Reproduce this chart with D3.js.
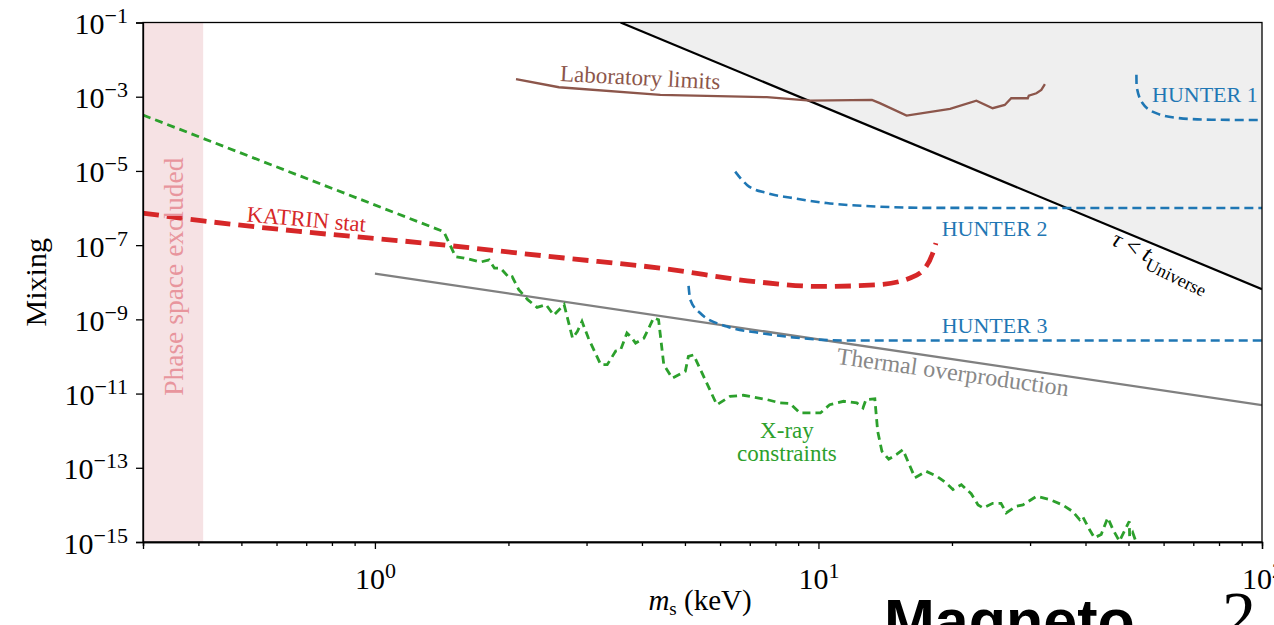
<!DOCTYPE html>
<html>
<head>
<meta charset="utf-8">
<script src="https://cdn.jsdelivr.net/npm/d3@7"></script>
<style>
  body { margin: 0; background: #fff; }
  svg { display: block; }
  text { font-family: "Liberation Serif", "DejaVu Serif", serif; }
</style>
</head>
<body>
<div id="plot"></div>
<script>
// sterile neutrino mass (keV) vs mixing

const xDomain = [0.3, 100];
const yDomain = [1e-15, 1e-1];
const xMajorTicks = [1, 10, 100];
const xMinorTicks = [0.3, 0.4, 0.5, 0.6, 0.7, 0.8, 0.9, 2, 3, 4, 5, 6, 7, 8, 9, 20, 30, 40, 50, 60, 70, 80, 90];
const yMajorTicks = [1e-1, 1e-3, 1e-5, 1e-7, 1e-9, 1e-11, 1e-13, 1e-15];

const phaseSpaceMass = [0.3, 0.41];

const tauMass = [3.58, 100];
const tauMix = [1e-1, 6.5e-9];

const labMass = [2.08, 2.60, 4.40, 7.65, 9.57, 13.2, 13.75, 15.8, 19.8, 22.7, 24.7, 26.3, 27.2, 29.65, 29.8, 31.0, 31.8, 32.4];
const labMix = [3.0e-3, 1.8e-3, 1.12e-3, 9.7e-4, 7.8e-4, 8.2e-4, 6.7e-4, 3.1e-4, 4.7e-4, 7.8e-4, 4.9e-4, 6.0e-4, 9.1e-4, 9.1e-4, 1.07e-3, 1.24e-3, 1.52e-3, 2.17e-3];

const katrinMass = [0.3, 0.41, 0.68, 1.34, 2.67, 4.4, 7.4, 10.1, 13.5, 16.1, 17.5, 18.1, 18.4];
const katrinMix = [7.3e-7, 4.5e-7, 2.33e-7, 1.09e-7, 4.5e-8, 2.4e-8, 1.0e-8, 7.7e-9, 8.5e-9, 1.3e-8, 2.66e-8, 6.1e-8, 1.13e-7];

const hunter1Mass = [52.1, 52.15, 53.8, 57.7, 65, 77, 100];
const hunter1Mix = [3.9e-3, 1.9e-3, 6.7e-4, 3.6e-4, 2.65e-4, 2.4e-4, 2.35e-4];

const hunter2Mass = [6.49, 6.90, 7.65, 8.78, 10.43, 13.52, 17.52, 100];
const hunter2Mix = [9.6e-6, 4.2e-6, 2.52e-6, 1.85e-6, 1.36e-6, 1.10e-6, 1.01e-6, 1.0e-6];

const hunter3Mass = [5.095, 5.14, 5.41, 6.22, 7.39, 8.78, 11.37, 100];
const hunter3Mix = [8.0e-9, 3.4e-9, 1.48e-9, 6.4e-10, 4.3e-10, 3.26e-10, 2.7e-10, 2.7e-10];

const thermalMass = [1, 100];
const thermalMix = [1.7e-8, 4.9e-12];

const xrayMass = [0.3, 1.43, 1.52, 1.59, 1.73, 1.81, 1.86, 1.92, 2.01, 2.04, 2.11, 2.21, 2.32, 2.43, 2.53, 2.67, 2.79, 2.86, 2.93, 3.03,
  3.23, 3.34, 3.49, 3.58, 3.70, 3.80, 3.87, 4.04, 4.18, 4.25, 4.36, 4.48, 4.68, 5.01, 5.09, 5.23, 5.90, 6.32, 6.77, 7.65,
  8.19, 8.63, 9.09, 10.1, 10.6, 11.4, 12.2, 12.6, 12.8, 13.4, 13.6, 13.9, 14.4, 15.0, 15.5, 16.5, 17.5, 18.5, 19.4, 20.1,
  21.0, 22.1, 22.9, 23.5, 24.7, 25.8, 26.5, 27.9, 28.9, 31.0, 33.2, 35.5, 37.4, 38.8, 39.4, 40.8, 41.9, 43.4, 44.9, 46.1,
  47.7, 50.2, 50.3, 51.1, 52.0];
const xrayMix = [3.2e-4, 2.3e-7, 4.9e-8, 4.5e-8, 3.5e-8, 4.0e-8, 2.4e-8, 2.4e-8, 1.3e-8, 1.4e-8, 6.3e-9, 3.4e-9, 2.1e-9, 2.5e-9, 1.3e-9, 2.5e-9, 3.1e-10, 4.7e-10, 8.8e-10, 3.1e-10,
  6.0e-11, 6.0e-11, 1.4e-10, 1.5e-10, 4.3e-10, 3.1e-10, 2.3e-10, 3.1e-10, 7.2e-10, 1.1e-9, 9.8e-10, 6.0e-11, 2.6e-11, 4.0e-11, 1.0e-10, 1.1e-10, 5.0e-12, 8.4e-12, 9.0e-12, 6.9e-12,
  5.6e-12, 5.4e-12, 3.0e-12, 3.0e-12, 5.0e-12, 6.2e-12, 5.6e-12, 4.1e-12, 6.9e-12, 7.2e-12, 9.6e-13, 2.8e-13, 1.7e-13, 2.3e-13, 3.1e-13, 5.4e-14, 8.0e-14, 5.9e-14, 3.9e-14, 2.6e-14,
  3.5e-14, 2.0e-14, 1.0e-14, 8.3e-15, 1.1e-14, 1.1e-14, 6.1e-15, 9.2e-15, 1.0e-14, 1.7e-14, 1.4e-14, 1.0e-14, 6.7e-15, 4.0e-15, 4.9e-15, 2.2e-15, 1.3e-15, 1.6e-15, 4.5e-15, 2.2e-15,
  1.05e-15, 3.6e-15, 1.4e-15, 1.8e-15, 1.0e-15];

////////////////////////////////////////////////////

const w = 1274;
const h = 625;
const margin = {top: 22.5, right: 12, bottom: 83, left: 143};

const svg = d3.select("div#plot")
    .append("svg")
    .attr("width", w)
    .attr("height", h);

const x = d3.scaleLog()
    .domain(xDomain)
    .range([margin.left, w - margin.right]);

const y = d3.scaleLog()
    .domain(yDomain)
    .range([h - margin.bottom, margin.top]);

svg.append("clipPath")
    .attr("id", "clip")
  .append("rect")
    .attr("x", margin.left)
    .attr("y", margin.top)
    .attr("width", x.range()[1] - margin.left)
    .attr("height", y.range()[0] - margin.top);

const plot = svg.append("g").attr("clip-path", "url(#clip)");

// phase space band
plot.append("rect")
    .attr("x", x(phaseSpaceMass[0]))
    .attr("y", margin.top)
    .attr("width", x(phaseSpaceMass[1]) - x(phaseSpaceMass[0]))
    .attr("height", y.range()[0] - margin.top)
    .attr("fill", "#f6e2e4");

const line = d3.line().x(d => x(d[0])).y(d => y(d[1]));
const smooth = d3.line().x(d => x(d[0])).y(d => y(d[1])).curve(d3.curveMonotoneX);

// lifetime shading
const tauPts = d3.zip(tauMass, tauMix);
plot.append("path")
    .attr("d", line(tauPts.concat([[xDomain[1], yDomain[1]]])) + "Z")
    .attr("fill", "#efefef");

plot.append("path")
    .attr("d", line(tauPts))
    .attr("fill", "none")
    .attr("stroke", "#000")
    .attr("stroke-width", 2.2);

plot.append("path")
    .attr("d", line(d3.zip(thermalMass, thermalMix)))
    .attr("fill", "none")
    .attr("stroke", "#808080")
    .attr("stroke-width", 2.3);

plot.append("path")
    .attr("d", line(d3.zip(labMass, labMix)))
    .attr("fill", "none")
    .attr("stroke", "#8c564b")
    .attr("stroke-width", 2.3);

plot.append("path")
    .attr("d", line(d3.zip(xrayMass, xrayMix)))
    .attr("fill", "none")
    .attr("stroke", "#2ca02c")
    .attr("stroke-width", 2.8)
    .attr("stroke-dasharray", "8 5");

[[hunter1Mass, hunter1Mix], [hunter2Mass, hunter2Mix], [hunter3Mass, hunter3Mix]].forEach(s => {
  plot.append("path")
      .attr("d", smooth(d3.zip(s[0], s[1])))
      .attr("fill", "none")
      .attr("stroke", "#1f77b4")
      .attr("stroke-width", 2.6)
      .attr("stroke-dasharray", "9 5");
});

plot.append("path")
    .attr("d", smooth(d3.zip(katrinMass, katrinMix)))
    .attr("fill", "none")
    .attr("stroke", "#d62728")
    .attr("stroke-width", 4.8)
    .attr("stroke-dasharray", "16 8");

// annotations
function label(mass, mix, rot, txt, color, size) {
  return svg.append("text")
      .attr("transform", `translate(${x(mass)},${y(mix)}) rotate(${rot})`)
      .attr("fill", color)
      .style("font-size", size + "px")
      .text(txt);
}

label(0.351, 1.41e-8, -90, "Phase space excluded", "#e8959d", 27.5).attr("text-anchor", "middle").attr("dy", "0.35em");
label(2.61, 2.66e-3, 3, "Laboratory limits", "#8c564b", 23);
label(0.513, 4.34e-7, 5, "KATRIN stat", "#d62728", 22.5);
label(56.5, 7.2e-4, 0, "HUNTER 1", "#1f77b4", 22);
label(18.96, 1.78e-7, 0, "HUNTER 2", "#1f77b4", 22);
label(18.96, 4.36e-10, 0, "HUNTER 3", "#1f77b4", 22);
label(10.95, 6.38e-11, 8, "Thermal overproduction", "#888888", 24);
label(8.49, 6.5e-13, 0, "X-ray", "#2ca02c", 23).attr("text-anchor", "middle");
label(8.49, 1.56e-13, 0, "constraints", "#2ca02c", 23).attr("text-anchor", "middle");

const tau = label(45.5, 1.05e-7, 26, "", "#000", 24);
tau.append("tspan").style("font-style", "italic").text("τ");
tau.append("tspan").text(" < ");
tau.append("tspan").style("font-style", "italic").text("t");
tau.append("tspan").attr("dy", 7).style("font-size", "18px").text("Universe");

// axes
function power(sel, exp) {
  sel.append("tspan").text("10");
  sel.append("tspan")
      .attr("dy", -11)
      .style("font-size", "22px")
      .text(exp < 0 ? "\u2212" + (-exp) : exp);
}

const xAxisMinor = d3.axisBottom(x).tickValues(xMinorTicks).tickSize(4).tickFormat("");
const xAxisMajor = d3.axisBottom(x).tickValues(xMajorTicks).tickSize(7).tickFormat("");
const yAxis = d3.axisLeft(y).tickValues(yMajorTicks).tickSize(7).tickFormat("");

svg.append("g")
    .attr("transform", `translate(0, ${y.range()[0]})`)
    .call(xAxisMinor);

svg.append("g")
    .attr("class", "xAxis")
    .attr("transform", `translate(0, ${y.range()[0]})`)
    .call(xAxisMajor)
    .call(g => g.selectAll(".tick text").remove())
    .call(g => g.selectAll(".tick").append("text")
        .attr("y", 47)
        .attr("fill", "#000")
        .attr("text-anchor", "middle")
        .style("font-size", "30px")
        .each(function (d) { power(d3.select(this), Math.round(Math.log10(d))); }));

svg.append("g")
    .attr("class", "yAxis")
    .attr("transform", `translate(${margin.left}, 0)`)
    .call(yAxis)
    .call(g => g.selectAll(".tick text").remove())
    .call(g => g.selectAll(".tick").append("text")
        .attr("x", -15)
        .attr("y", 11)
        .attr("fill", "#000")
        .attr("text-anchor", "end")
        .style("font-size", "30px")
        .each(function (d) { power(d3.select(this), Math.round(Math.log10(d))); }));

svg.selectAll(".domain, .tick line").attr("stroke", "#000").attr("stroke-width", 1.3);

// frame
svg.append("rect")
    .attr("x", margin.left)
    .attr("y", margin.top)
    .attr("width", x.range()[1] - margin.left)
    .attr("height", y.range()[0] - margin.top)
    .attr("fill", "none")
    .attr("stroke", "#000")
    .attr("stroke-width", 1.3);

// axis titles
const xt = svg.append("text")
    .attr("x", 700)
    .attr("y", 610)
    .attr("text-anchor", "middle")
    .style("font-size", "29px");
xt.append("tspan").style("font-style", "italic").text("m");
xt.append("tspan").attr("dy", 5).style("font-size", "19px").text("s");
xt.append("tspan").attr("dy", -5).text(" (keV)");

svg.append("text")
    .attr("transform", `translate(46, ${(margin.top + y.range()[0]) / 2}) rotate(-90)`)
    .attr("text-anchor", "middle")
    .style("font-size", "30px")
    .text("Mixing");

// slide residue below the figure
svg.append("text")
    .attr("x", 884)
    .attr("y", 642)
    .style("font-family", "'Liberation Sans', Arial, sans-serif")
    .style("font-weight", "bold")
    .style("font-size", "61px")
    .text("Magneto");

svg.append("text")
    .attr("x", 1222)
    .attr("y", 638)
    .style("font-size", "68px")
    .text("2");
</script>
</body>
</html>
